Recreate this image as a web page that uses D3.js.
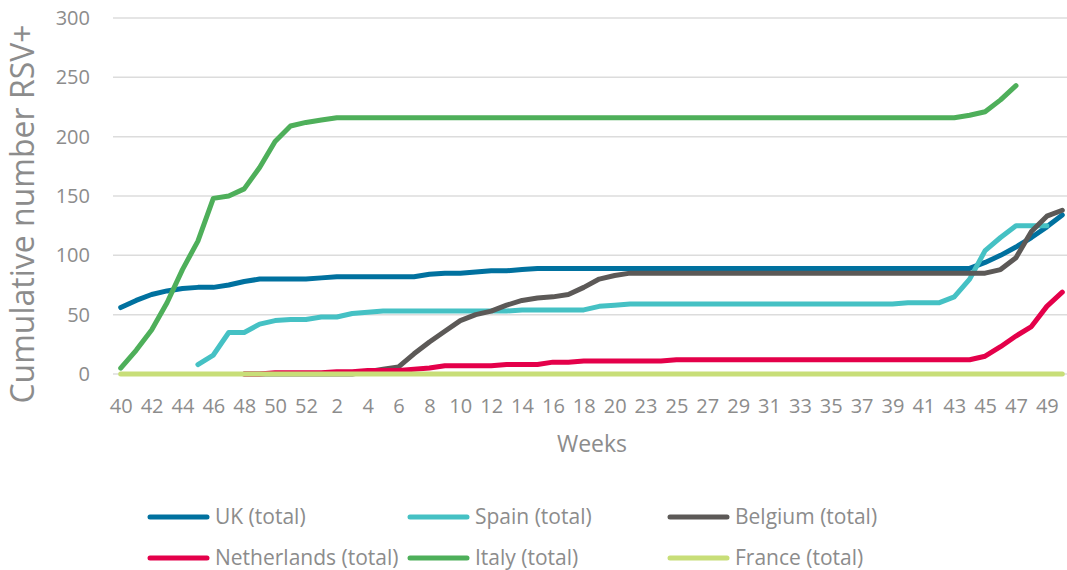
<!DOCTYPE html>
<html>
<head>
<meta charset="utf-8">
<script src="https://cdn.jsdelivr.net/npm/d3@7"></script>
<style>
  body { margin: 0; background: #fff; }
  svg text { font-family: "Open Sans", sans-serif; fill: #8c8c8c; }
</style>
</head>
<body>
<svg width="1067" height="570"></svg>
<script>
var weeks = [40, 41, 42, 43, 44, 45, 46, 47, 48, 49, 50, 51, 52,
             1, 2, 3, 4, 5, 6, 7, 8, 9, 10, 11, 12, 13, 14, 15, 16, 17, 18, 19, 20, 21,
             23, 24, 25, 26, 27, 28, 29, 30, 31, 32, 33, 34, 35, 36, 37, 38, 39, 40,
             41, 42, 43, 44, 45, 46, 47, 48, 49, 50];

var ukTotal = [56, 62, 67, 70, 72, 73, 73, 75, 78, 80, 80, 80, 80,
               81, 82, 82, 82, 82, 82, 82, 84, 85, 85, 86, 87, 87, 88, 89, 89, 89, 89, 89, 89, 89,
               89, 89, 89, 89, 89, 89, 89, 89, 89, 89, 89, 89, 89, 89, 89, 89, 89, 89,
               89, 89, 89, 89, 94, 100, 107, 115, 124, 134];

var spainTotal = [null, null, null, null, null, 8, 16, 35, 35, 42, 45, 46, 46,
                  48, 48, 51, 52, 53, 53, 53, 53, 53, 53, 53, 53, 53, 54, 54, 54, 54, 54, 57, 58, 59,
                  59, 59, 59, 59, 59, 59, 59, 59, 59, 59, 59, 59, 59, 59, 59, 59, 59, 60,
                  60, 60, 65, 80, 104, 115, 125, 125, 125, null];

var belgiumTotal = [null, null, null, null, null, null, null, null, 0, 0, 0, 0, 0,
                    0, 0, 0, 2, 4, 6, 17, 27, 36, 45, 50, 53, 58, 62, 64, 65, 67, 73, 80, 83, 85,
                    85, 85, 85, 85, 85, 85, 85, 85, 85, 85, 85, 85, 85, 85, 85, 85, 85, 85,
                    85, 85, 85, 85, 85, 88, 98, 120, 133, 138];

var netherlandsTotal = [null, null, null, null, null, null, null, null, 0, 0, 1, 1, 1,
                        1, 2, 2, 3, 3, 3, 4, 5, 7, 7, 7, 7, 8, 8, 8, 10, 10, 11, 11, 11, 11,
                        11, 11, 12, 12, 12, 12, 12, 12, 12, 12, 12, 12, 12, 12, 12, 12, 12, 12,
                        12, 12, 12, 12, 15, 23, 32, 40, 57, 69];

var italyTotal = [5, 20, 37, 60, 88, 112, 148, 150, 156, 174, 196, 209, 212,
                  214, 216, 216, 216, 216, 216, 216, 216, 216, 216, 216, 216, 216, 216, 216, 216, 216, 216, 216, 216, 216,
                  216, 216, 216, 216, 216, 216, 216, 216, 216, 216, 216, 216, 216, 216, 216, 216, 216, 216,
                  216, 216, 216, 218, 221, 231, 243, null, null, null];

var franceTotal = [0, 0, 0, 0, 0, 0, 0, 0, 0, 0, 0, 0, 0,
                   0, 0, 0, 0, 0, 0, 0, 0, 0, 0, 0, 0, 0, 0, 0, 0, 0, 0, 0, 0, 0,
                   0, 0, 0, 0, 0, 0, 0, 0, 0, 0, 0, 0, 0, 0, 0, 0, 0, 0,
                   0, 0, 0, 0, 0, 0, 0, 0, 0, 0];

var seriesNames = ["UK (total)", "Spain (total)", "Belgium (total)",
                   "Netherlands (total)", "Italy (total)", "France (total)"];
var seriesColors = ["#00719f", "#45c1c4", "#5c5957", "#e4004a", "#4eaf5a", "#c8de78"];
var yTicks = [0, 50, 100, 150, 200, 250, 300];

var series = [ukTotal, spainTotal, belgiumTotal, netherlandsTotal, italyTotal, franceTotal];

var svg = d3.select("svg"),
    margin = {top: 18, left: 113},
    plotRight = 1070,
    plotBottom = 374;

var x = d3.scalePoint()
          .domain(d3.range(weeks.length))
          .range([margin.left, plotRight])
          .padding(0.5);

var y = d3.scaleLinear()
          .domain([0, 300])
          .range([plotBottom, margin.top]);

// gridlines
svg.append("g")
   .selectAll("line")
   .data(yTicks)
   .enter().append("line")
   .attr("x1", margin.left)
   .attr("x2", plotRight)
   .attr("y1", function(d) { return y(d); })
   .attr("y2", function(d) { return y(d); })
   .attr("stroke", "#dcdcdc")
   .attr("stroke-width", 1.5);

var yAxis = d3.axisLeft(y)
              .tickValues(yTicks)
              .tickSize(0)
              .tickPadding(23);

var xAxis = d3.axisBottom(x)
              .tickValues(d3.range(0, weeks.length, 2))
              .tickFormat(function(i) { return weeks[i]; })
              .tickSize(0)
              .tickPadding(25);

svg.append("g")
   .attr("class", "axis axis--y")
   .attr("transform", "translate(" + margin.left + ",0)")
   .call(yAxis)
   .call(function(g) { g.select(".domain").remove(); })
   .selectAll("text")
   .style("font-size", "20px");

svg.append("g")
   .attr("class", "axis axis--x")
   .attr("transform", "translate(0," + plotBottom + ")")
   .call(xAxis)
   .call(function(g) { g.select(".domain").remove(); })
   .selectAll("text")
   .style("font-size", "20px");

svg.append("text")
   .attr("transform", "translate(34,214) rotate(-90)")
   .attr("text-anchor", "middle")
   .style("font-size", "32px")
   .text("Cumulative number RSV+");

svg.append("text")
   .attr("x", 592)
   .attr("y", 452)
   .attr("text-anchor", "middle")
   .style("font-size", "23px")
   .text("Weeks");

var line = d3.line()
             .defined(function(d) { return d != null; })
             .x(function(d, i) { return x(i); })
             .y(function(d) { return y(d); });

series.forEach(function(data, k) {
  svg.append("path")
     .datum(data)
     .attr("class", "line")
     .attr("d", line)
     .attr("fill", "none")
     .attr("stroke", seriesColors[k])
     .attr("stroke-width", 5)
     .attr("stroke-linejoin", "round")
     .attr("stroke-linecap", "round");
});

// legend, three per row
var legend = svg.append("g")
                .selectAll("g")
                .data(seriesNames)
                .enter().append("g")
                .attr("transform", function(d, k) {
                  return "translate(" + (150 + (k % 3) * 260) + "," + (517 + Math.floor(k / 3) * 41) + ")";
                });

legend.append("line")
      .attr("x1", 0)
      .attr("x2", 57)
      .attr("stroke", function(d, k) { return seriesColors[k]; })
      .attr("stroke-width", 5)
      .attr("stroke-linecap", "round");

legend.append("text")
      .attr("x", 65)
      .attr("dy", "0.35em")
      .style("font-size", "21px")
      .text(function(d) { return d; });
</script>
</body>
</html>
